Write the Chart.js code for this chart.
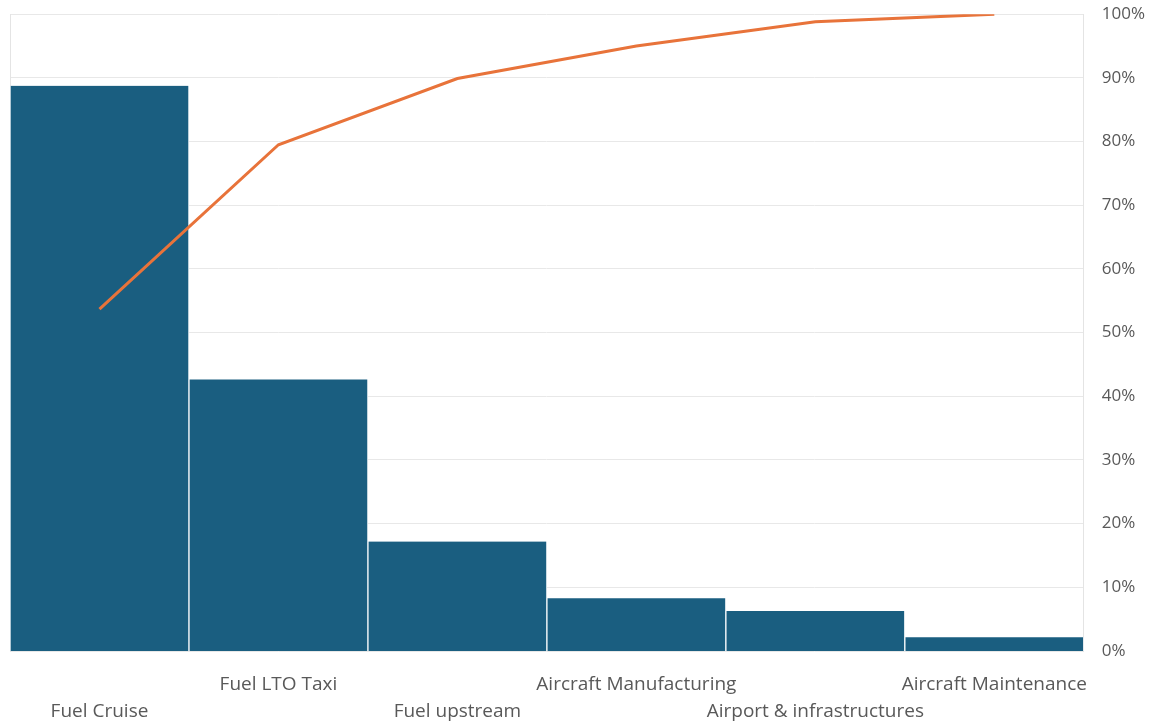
<!DOCTYPE html>
<html>
<head>
<meta charset="utf-8">
<script src="https://cdn.jsdelivr.net/npm/chart.js@4/dist/chart.umd.min.js"></script>
<style>
html,body{margin:0;padding:0;background:#fff;overflow:hidden;width:1163px;height:727px;}
#wrap{width:1163px;height:738px;position:absolute;left:0;top:-14px;}
</style>
</head>
<body>
<div id="wrap"><canvas id="c"></canvas></div>
<script>
const categories = ['Fuel Cruise','Fuel LTO Taxi','Fuel upstream','Aircraft Manufacturing','Airport & infrastructures','Aircraft Maintenance'];
const shareValues = [53.7, 25.8, 10.4, 5.0, 3.8, 1.3];
const cumulativeValues = [53.7, 79.5, 89.9, 95.0, 98.8, 100];
const percentTicks = [0,10,20,30,40,50,60,70,80,90,100];

const labels = categories.map((c,i) => i % 2 === 0 ? ['', c] : [c, '']);

new Chart(document.getElementById('c'), {
  data: {
    labels: labels,
    datasets: [
      {
        type: 'line',
        data: cumulativeValues,
        yAxisID: 'y1',
        borderColor: '#e8733a',
        borderWidth: 3,
        pointRadius: 0,
        tension: 0,
        order: 0
      },
      {
        type: 'bar',
        data: shareValues,
        yAxisID: 'y',
        backgroundColor: '#1a5e80',
        borderColor: '#ffffff',
        borderWidth: {left:1,right:1,top:0,bottom:0},
        barPercentage: 1,
        categoryPercentage: 1,
        order: 1
      }
    ]
  },
  options: {
    responsive: true,
    maintainAspectRatio: false,
    animation: false,
    layout: { padding: { left: 2, top: -9, right: 0, bottom: -13 } },
    plugins: { legend: { display: false }, tooltip: { enabled: false } },
    scales: {
      x: {
        grid: { display: false },
        border: { display: false },
        ticks: {
          autoSkip: false, maxRotation: 0, minRotation: 0,
          color: '#595959',
          font: { family: 'Open Sans', size: 19, lineHeight: '27px' },
          padding: 12
        }
      },
      y: {
        position: 'left',
        min: 0, max: 60.5,
        grid: { display: false },
        ticks: { display: false },
        border: { display: true, color: '#e4e4e4', width: 1 }
      },
      y1: {
        position: 'right',
        min: 0, max: 100,
        afterBuildTicks: (s) => { s.ticks = percentTicks.map(v => ({value: v})); },
        grid: { color: '#e8e8e8', drawTicks: false },
        border: { display: true, color: '#e4e4e4' },
        ticks: {
          color: '#595959',
          font: { family: 'Open Sans', size: 17 },
          padding: 18,
          callback: (v) => v + '%'
        }
      }
    }
  }
});
</script>
</body>
</html>
